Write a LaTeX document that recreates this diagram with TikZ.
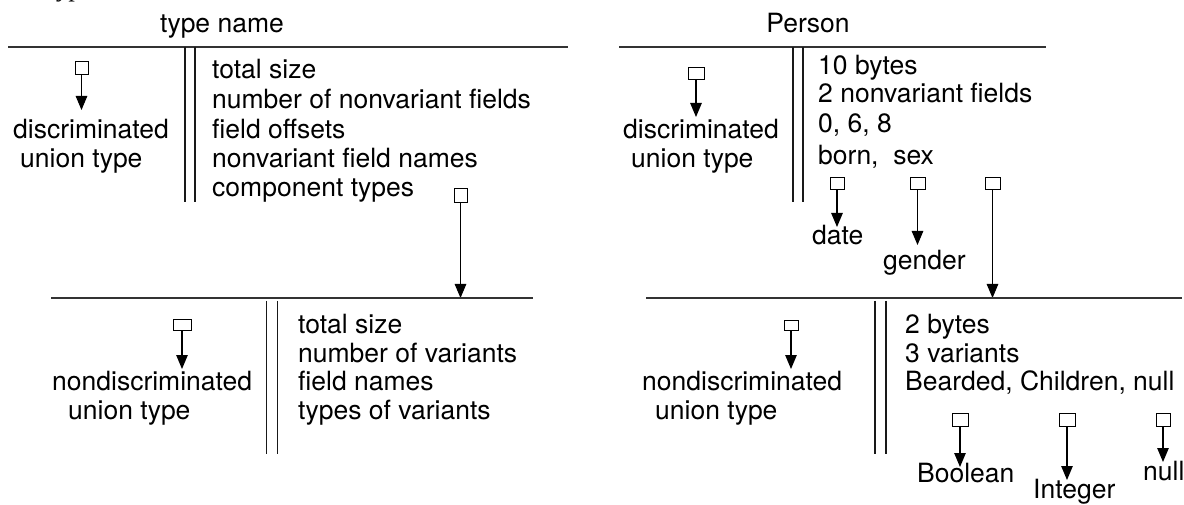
\documentclass[tikz,border=0pt]{standalone}
\usepackage{fontspec}
\setmainfont{TeX Gyre Heros}
\newfontfamily\capfont{Liberation Serif}
\usetikzlibrary{arrows.meta}

\tikzset{
  txt/.style={anchor=base west, inner sep=0pt, font=\fontsize{26.5}{29}\selectfont},
  ttl/.style={anchor=base, inner sep=0pt, font=\fontsize{26.5}{29}\selectfont},
  rule/.style={line width=1.4pt, draw=black!80},
  bar/.style={line width=1.3pt, draw=black!90},
  tag/.style={draw, line width=0.9pt, inner sep=0pt, minimum width=14pt, minimum height=12pt},
  ptr/.style={line width=1.1pt, -{Triangle[length=14pt,width=11.5pt]}},
}

\begin{document}
\begin{tikzpicture}[x=1pt,y=-1pt]
\useasboundingbox (0,0) rectangle (1184,505);

% caption running above the top edge
\node[anchor=base west, inner sep=0pt, font=\capfont\itshape\fontsize{26}{29}\selectfont] (cap) at (46,-3) {Type};

% ---------- generic descriptor: discriminated union ----------
\node[ttl] (tname) at (222,33) {type name};
\coordinate (tlA) at (8,47);
\coordinate (tlB) at (568,47);
\draw[rule] (tlA) -- (tlB);
\draw[bar] (185,47) -- (185,202) (195,47) -- (195,202);

\node[tag, minimum width=13pt, minimum height=13pt] (tlbox) at (81.5,67.5) {};
\coordinate (tltip) at (81.5,110);
\draw[ptr] (tlbox) -- (tltip);
\node[txt] (tld) at (13,139) {discriminated};
\node[txt] (tlu) at (20,168) {union type};

\node[txt] (tl1) at (212,79)  {total size};
\node[txt] (tl2) at (212,109) {number of nonvariant fields};
\node[txt] (tl3) at (212,139) {field offsets};
\node[txt] (tl4) at (212,168) {nonvariant field names};
\node[txt] (tl5) at (212,197) {component types};

\node[tag, minimum width=13pt, minimum height=14pt] (compbox) at (460.5,195) {};
\coordinate (bltip) at (460.5,298);
\draw[ptr] (compbox) -- (bltip);

% ---------- generic descriptor: nondiscriminated union ----------
\coordinate (blA) at (51,298);
\coordinate (blB) at (533,298);
\draw[rule] (blA) -- (blB);
\draw[bar] (266.7,301) -- (266.7,454) (277.7,301) -- (277.7,454);

\node[tag, minimum width=18pt, minimum height=11pt] (blbox) at (182,324.5) {};
\coordinate (blbtip) at (182,369);
\draw[ptr] (blbox) -- (blbtip);
\node[txt] (bld) at (52,390) {nondiscriminated};
\node[txt] (blu) at (68,419) {union type};

\node[txt] (bl1) at (298,333) {total size};
\node[txt] (bl2) at (298,362) {number of variants};
\node[txt] (bl3) at (298,390) {field names};
\node[txt] (bl4) at (298,419) {types of variants};

% ---------- Person: discriminated union ----------
\node[ttl] (pname) at (808,33) {Person};
\coordinate (trA) at (619,47);
\coordinate (trB) at (1046,47);
\draw[rule] (trA) -- (trB);
\draw[bar] (793,47) -- (793,202) (803,47) -- (803,202);

\node[tag, minimum width=16pt] (trbox) at (696,73) {};
\coordinate (trtip) at (696,117);
\draw[ptr] (trbox) -- (trtip);
\node[txt] (trd) at (623,139) {discriminated};
\node[txt] (tru) at (631,168) {union type};

\node[txt] (tr1) at (818,75)  {10 bytes};
\node[txt] (tr2) at (818,103) {2 nonvariant fields};
\node[txt] (tr3) at (818,133) {0, 6, 8};
\node[txt] (tr4) at (818,165) {born,\ \ sex};

\node[tag] (fb1) at (837,183) {};
\node[tag, minimum width=15pt] (fb2) at (917.5,183) {};
\node[tag, minimum width=15pt] (fb3) at (992.5,183) {};
\node[txt] (date) at (812,245) {date};
\node[txt] (gender) at (883,270) {gender};
\coordinate (fb1tip) at (837,227);
\coordinate (fb2tip) at (917.5,245);
\coordinate (brtip) at (992.5,298);
\draw[ptr] (fb1) -- (fb1tip);
\draw[ptr] (fb2) -- (fb2tip);
\draw[ptr] (fb3) -- (brtip);

% ---------- Person variants: nondiscriminated union ----------
\coordinate (brA) at (646,298);
\coordinate (brB) at (1182,298);
\draw[rule] (brA) -- (brB);
\draw[bar] (875,301) -- (875,454) (886,301) -- (886,454);

\node[tag, minimum height=10pt] (brbox) at (791,325) {};
\coordinate (brbtip) at (791,369);
\draw[ptr] (brbox) -- (brbtip);
\node[txt] (brd) at (642,390) {nondiscriminated};
\node[txt] (bru) at (655,419) {union type};

\node[txt] (br1) at (905,333) {2 bytes};
\node[txt] (br2) at (905,362) {3 variants};
\node[txt] (br3) at (905,390) {Bearded, Children, null};

\node[tag, minimum width=16pt, minimum height=13pt] (vb1) at (960,420) {};
\node[tag, minimum width=16pt, minimum height=13pt] (vb2) at (1067,420) {};
\node[tag, minimum height=13pt] (vb3) at (1163,420) {};
\node[txt] (bool) at (917,482) {Boolean};
\node[txt] (int) at (1033,498) {Integer};
\node[txt] (nul) at (1143,480) {null};
\coordinate (vb1tip) at (960,467);
\coordinate (vb2tip) at (1067,480);
\coordinate (vb3tip) at (1163,462);
\draw[ptr] (vb1) -- (vb1tip);
\draw[ptr] (vb2) -- (vb2tip);
\draw[ptr] (vb3) -- (vb3tip);
\end{tikzpicture}
\end{document}
